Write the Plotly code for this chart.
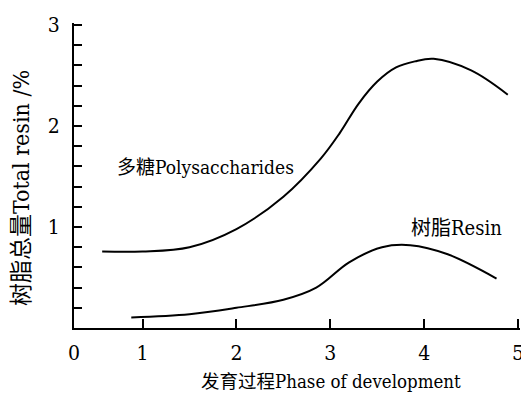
import plotly.graph_objects as go

# Data
poly_x = [0.57, 1.0, 1.5, 2.0, 2.5, 2.9, 3.1, 3.3, 3.5, 3.7, 3.9, 4.1, 4.5, 4.89]
poly_y = [0.757, 0.757, 0.80, 0.98, 1.30, 1.68, 1.93, 2.22, 2.44, 2.58, 2.64, 2.665, 2.55, 2.31]

resin_x = [0.88, 1.5, 2.0, 2.5, 2.85, 3.2, 3.55, 3.85, 4.25, 4.77]
resin_y = [0.105, 0.137, 0.20, 0.28, 0.40, 0.65, 0.80, 0.82, 0.73, 0.49]

x_tickvals = [0.27, 1, 2, 3, 4, 5]
x_ticktext = ["0", "1", "2", "3", "4", "5"]
y_tickvals = [0.2, 0.4, 0.6, 0.8, 1.0, 1.2, 1.4, 1.6, 1.8, 2.0, 2.2, 2.4, 2.6, 2.8, 3.0]
y_ticktext = ["", "", "", "", "1", "", "", "", "", "2", "", "", "", "", "3"]

FONT = "DejaVu Serif Condensed, DejaVu Serif, Noto Sans CJK SC, serif"

fig = go.Figure()
for xs, ys in ((poly_x, poly_y), (resin_x, resin_y)):
    fig.add_trace(go.Scatter(x=xs, y=ys, mode="lines",
                             line=dict(color="black", width=2, shape="spline", smoothing=1.0),
                             showlegend=False, hoverinfo="skip"))

# page body has an 8px margin: figure is placed at (8, 8)
OFF = 8
W, H = 529 - OFF, 397 - OFF
L, R, T, B = 74 - OFF, 5, 13 - OFF, 69
pw = W - L - R
ph = H - T - B

def px_to_paper(x, y):
    return (x - OFF - L) / pw, (H - B - (y - OFF)) / ph

xt_x, xt_y = px_to_paper(333, 383)
yt_x, yt_y = px_to_paper(20, 183)

fig.update_layout(
    width=W, height=H,
    margin=dict(l=L, r=R, t=T, b=B),
    paper_bgcolor="white", plot_bgcolor="white",
    font=dict(family=FONT, color="black", size=19),
    xaxis=dict(range=[0.27, 5.02], showgrid=False, zeroline=False,
               showline=True, linecolor="black", linewidth=2,
               tickmode="array", tickvals=x_tickvals, ticktext=x_ticktext,
               ticks="inside", ticklen=9, tickwidth=2, tickcolor="black",
               ticklabelstandoff=5, ticklabeloverflow="allow",
               tickfont=dict(size=21, family=FONT)),
    yaxis=dict(range=[0, 3.02], showgrid=False, zeroline=False,
               showline=True, linecolor="black", linewidth=2,
               tickmode="array", tickvals=y_tickvals, ticktext=y_ticktext,
               ticks="inside", ticklen=8, tickwidth=2, tickcolor="black",
               ticklabelstandoff=8, ticklabeloverflow="allow",
               tickfont=dict(size=21, family=FONT)),
    annotations=[
        dict(x=1.674, y=1.59, xref="x", yref="y", text="多糖Polysaccharides",
             showarrow=False, xanchor="center", yanchor="middle",
             font=dict(size=19, family=FONT)),
        dict(x=4.346, y=0.99, xref="x", yref="y", text="树脂Resin",
             showarrow=False, xanchor="center", yanchor="middle",
             font=dict(size=20, family=FONT)),
        dict(x=xt_x, y=xt_y, xref="paper", yref="paper", text="发育过程Phase of development",
             showarrow=False, xanchor="center", yanchor="middle",
             font=dict(size=18.5, family=FONT)),
        dict(x=yt_x, y=yt_y, xref="paper", yref="paper", text="树脂总量Total resin /%",
             showarrow=False, textangle=-90, xanchor="center", yanchor="middle",
             font=dict(size=23, family=FONT)),
    ],
)

fig.write_html("out.html")
